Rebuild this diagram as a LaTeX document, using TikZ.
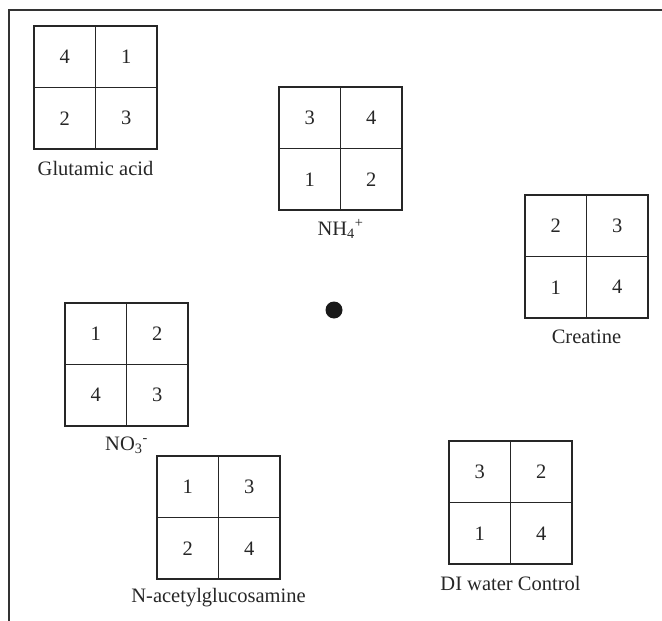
\documentclass[tikz,border=0pt]{standalone}
\usepackage{fontspec}
\setmainfont{Liberation Serif}
\newcommand\wellgrid[8]{%
  % #1,#2 top-left corner; #3..#6 numbers (TL,TR,BL,BR); #7 label; #8 name
  \draw[gridline] (#1,#2) rectangle ++(123,123);
  \draw[gridline] ($(#1,#2)+(61.5,0)$) -- ++(0,123);
  \draw[gridline] ($(#1,#2)+(0,61.5)$) -- ++(123,0);
  \node[num] (#8-a) at ($(#1,#2)+(30.75,30.75)$) {#3};
  \node[num] (#8-b) at ($(#1,#2)+(92.25,30.75)$) {#4};
  \node[num] (#8-c) at ($(#1,#2)+(30.75,92.25)$) {#5};
  \node[num] (#8-d) at ($(#1,#2)+(92.25,92.25)$) {#6};
  \node[lbl] (#8-l) at ($(#1,#2)+(61.5,142)$) {#7};
}
\usetikzlibrary{calc}
\begin{document}
\begin{tikzpicture}[x=1pt,y=-1pt,
  gridline/.style={draw=black!85,line width=1.1pt},
  num/.style={font=\fontsize{20.5}{23}\selectfont,text=black!85,inner sep=0pt},
  lbl/.style={font=\fontsize{20.5}{23}\selectfont,text=black!85,inner sep=0pt}]
\useasboundingbox (0,0) rectangle (662,621);
\draw[draw=black!80,line width=1.4pt] (662,10) -- (9,10) -- (9,621);
\wellgrid{34}{26}{4}{1}{2}{3}{Glutamic acid}{ga}
\wellgrid{279}{87}{3}{4}{1}{2}{NH\textsubscript{4}\textsuperscript{+}}{nh}
\wellgrid{525}{195}{2}{3}{1}{4}{Creatine}{cr}
\wellgrid{65}{303}{1}{2}{4}{3}{NO\textsubscript{3}\textsuperscript{-}}{no}
\wellgrid{157}{456}{1}{3}{2}{4}{N-acetylglucosamine}{nag}
\wellgrid{449}{441}{3}{2}{1}{4}{DI water Control}{di}
\node[circle,fill=black!90,minimum size=17pt,inner sep=0pt] (dot) at (334,310) {};
\end{tikzpicture}
\end{document}
